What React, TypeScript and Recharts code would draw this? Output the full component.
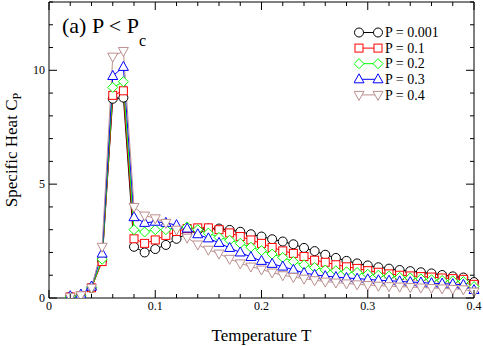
import React from 'react';
import { Legend, Line, LineChart, XAxis, YAxis } from 'recharts';

const temps = [
  0.02, 0.03, 0.04, 0.05, 0.06, 0.07, 0.08, 0.09, 0.1, 0.11, 0.12, 0.13, 0.14,
  0.15, 0.16, 0.17, 0.18, 0.19, 0.2, 0.21, 0.22, 0.23, 0.24, 0.25, 0.26, 0.27,
  0.28, 0.29, 0.3, 0.31, 0.32, 0.33, 0.34, 0.35, 0.36, 0.37, 0.38, 0.39, 0.4,
];

const cpP0001 = [
  0.05, 0.1, 0.45, 1.65, 8.75, 8.8, 2.25, 2.0, 2.15, 2.33, 2.6, 2.82, 2.98,
  3.05, 3.05, 2.99, 2.91, 2.8, 2.7, 2.58, 2.48, 2.36, 2.2, 2.06, 1.9, 1.76,
  1.63, 1.52, 1.43, 1.35, 1.29, 1.23, 1.18, 1.13, 1.08, 1.01, 0.95, 0.9, 0.7,
];
const cpP01 = [
  0.05, 0.1, 0.45, 1.6, 8.9, 9.1, 2.6, 2.4, 2.55, 2.75, 2.92, 3.05, 3.08,
  3.08, 3.0, 2.86, 2.7, 2.55, 2.4, 2.22, 2.07, 1.96, 1.82, 1.66, 1.57, 1.46,
  1.37, 1.3, 1.2, 1.13, 1.06, 1.0, 0.97, 0.94, 0.92, 0.88, 0.85, 0.82, 0.6,
];
const cpP02 = [
  0.05, 0.1, 0.45, 1.7, 9.25, 9.5, 3.0, 2.9, 3.0, 3.0, 3.07, 3.12, 3.0,
  2.85, 2.66, 2.54, 2.4, 2.23, 2.08, 1.93, 1.78, 1.6, 1.46, 1.34, 1.23, 1.2,
  1.15, 1.12, 1.04, 1.0, 0.96, 0.91, 0.88, 0.84, 0.8, 0.77, 0.75, 0.72, 0.5,
];
const cpP03 = [
  0.08, 0.15, 0.5, 1.95, 9.75, 10.15, 3.55, 3.3, 3.35, 3.3, 3.2, 3.05, 2.8,
  2.62, 2.42, 2.2, 2.0, 1.8, 1.63, 1.5, 1.38, 1.24, 1.1, 1.02, 0.96, 0.92,
  0.88, 0.85, 0.82, 0.78, 0.76, 0.73, 0.7, 0.68, 0.65, 0.63, 0.61, 0.58, 0.35,
];
const cpP04 = [
  0.05, 0.12, 0.45, 2.25, 10.6, 10.85, 4.0, 3.62, 3.5, 3.3, 3.0, 2.65, 2.35,
  2.12, 1.95, 1.72, 1.52, 1.38, 1.25, 1.12, 1.0, 0.92, 0.85, 0.78, 0.72, 0.68,
  0.64, 0.6, 0.57, 0.54, 0.52, 0.5, 0.48, 0.46, 0.44, 0.42, 0.4, 0.38, 0.28,
];

const xTicks = [
  0, 0.02, 0.04, 0.06, 0.08, 0.1, 0.12, 0.14, 0.16, 0.18, 0.2, 0.22, 0.24,
  0.26, 0.28, 0.3, 0.32, 0.34, 0.36, 0.38, 0.4,
];
const xMajor = [0, 0.1, 0.2, 0.3, 0.4];
const yTicks = [0, 1, 2, 3, 4, 5, 6, 7, 8, 9, 10, 11, 12, 13];
const yMajor = [0, 5, 10];

const series = [
  { key: 'p0001', label: 'P = 0.001', color: '#000000', shape: 'circle', values: cpP0001 },
  { key: 'p01', label: 'P = 0.1', color: '#ff0000', shape: 'square', values: cpP01 },
  { key: 'p02', label: 'P = 0.2', color: '#00ff00', shape: 'diamond', values: cpP02 },
  { key: 'p03', label: 'P = 0.3', color: '#0000ff', shape: 'up', values: cpP03 },
  { key: 'p04', label: 'P = 0.4', color: '#bc8f8f', shape: 'down', values: cpP04 },
];

const data = temps.map((t, i) => {
  const row: Record<string, number> = { t };
  series.forEach((s) => {
    row[s.key] = s.values[i];
  });
  return row;
});

const FONT = '"Liberation Serif", "Times New Roman", serif';

const isMajor = (list: number[], v: number) =>
  list.some((m) => Math.abs(m - v) < 1e-9);

function Marker({ cx, cy, shape, color }: any) {
  if (cx == null || cy == null) return null;
  const common = { fill: '#ffffff', stroke: color, strokeWidth: 1 };
  switch (shape) {
    case 'circle':
      return <circle cx={cx} cy={cy} r={4.5} {...common} />;
    case 'square':
      return <rect x={cx - 4} y={cy - 4} width={8} height={8} {...common} />;
    case 'diamond':
      return (
        <polygon
          points={`${cx},${cy - 5} ${cx + 5},${cy} ${cx},${cy + 5} ${cx - 5},${cy}`}
          {...common}
        />
      );
    case 'up':
      return (
        <polygon
          points={`${cx},${cy - 5.5} ${cx + 5},${cy + 3.5} ${cx - 5},${cy + 3.5}`}
          {...common}
        />
      );
    default:
      return (
        <polygon
          points={`${cx},${cy + 5.5} ${cx + 5},${cy - 3.5} ${cx - 5},${cy - 3.5}`}
          {...common}
        />
      );
  }
}

function BottomTick({ x, y, payload }: any) {
  const major = isMajor(xMajor, payload.value);
  return (
    <g>
      <line x1={x} y1={y} x2={x} y2={y - (major ? 8 : 4)} stroke="#000" />
      {major && (
        <text x={x} y={y + 12} textAnchor="middle" fontSize={12} fontFamily={FONT} fill="#000">
          {String(payload.value)}
        </text>
      )}
    </g>
  );
}

function TopTick({ x, y, payload }: any) {
  const major = isMajor(xMajor, payload.value);
  return <line x1={x} y1={y} x2={x} y2={y + (major ? 8 : 4)} stroke="#000" />;
}

function LeftTick({ x, y, payload }: any) {
  const major = isMajor(yMajor, payload.value);
  return (
    <g>
      <line x1={x} y1={y} x2={x + (major ? 8 : 4)} y2={y} stroke="#000" />
      {major && (
        <text x={x - 4} y={y + 4} textAnchor="end" fontSize={12} fontFamily={FONT} fill="#000">
          {String(payload.value)}
        </text>
      )}
    </g>
  );
}

function RightTick({ x, y, payload }: any) {
  const major = isMajor(yMajor, payload.value);
  return <line x1={x} y1={y} x2={x - (major ? 8 : 4)} y2={y} stroke="#000" />;
}

// legend drawn as svg so it uses the same font as the title
function LegendBox({ payload }: any) {
  const rows = payload || [];
  return (
    <svg width={110} height={82} style={{ display: 'block' }}>
      {rows.map((entry: any, i: number) => {
        const s = series.find((item) => item.key === entry.dataKey) || series[0];
        const cy = 7.5 + i * 15.6;
        return (
          <g key={s.key}>
            <line x1={5} y1={cy} x2={24} y2={cy} stroke={s.color} />
            <Marker cx={5} cy={cy} shape={s.shape} color={s.color} />
            <Marker cx={24} cy={cy} shape={s.shape} color={s.color} />
            <text x={31} y={cy + 4.6} fontSize={14} fontFamily={FONT} fill="#000">
              {s.label}
            </text>
          </g>
        );
      })}
    </svg>
  );
}

export default function App() {
  return (
    <div style={{ position: 'absolute', left: 0, top: 0, width: 483, height: 346, background: '#fff' }}>
      <LineChart
        width={483}
        height={346}
        data={data}
        margin={{ top: 1, right: 8, bottom: 18, left: 0 }}
      >
        <XAxis
          dataKey="t"
          type="number"
          domain={[0, 0.4]}
          ticks={xTicks}
          interval={0}
          height={30}
          tickSize={0}
          tickMargin={0}
          tickLine={false}
          tick={<BottomTick />}
          axisLine={{ stroke: '#000' }}
          label={({ viewBox }: any) => (
            <text
              x={viewBox.x + viewBox.width / 2}
              y={viewBox.y + 43}
              textAnchor="middle"
              fontSize={17}
              fontFamily={FONT}
              fill="#000"
            >
              Temperature T
            </text>
          )}
        />
        <XAxis
          xAxisId="top"
          orientation="top"
          dataKey="t"
          type="number"
          domain={[0, 0.4]}
          allowDataOverflow
          ticks={xTicks}
          interval={0}
          height={1}
          tickSize={0}
          tickMargin={0}
          tickLine={false}
          tick={<TopTick />}
          axisLine={{ stroke: '#000' }}
        />
        <YAxis
          type="number"
          domain={[0, 13]}
          allowDataOverflow
          ticks={yTicks}
          interval={0}
          width={49}
          tickSize={0}
          tickMargin={0}
          tickLine={false}
          tick={<LeftTick />}
          axisLine={{ stroke: '#000' }}
          label={({ viewBox }: any) => {
            const cx = viewBox.x + 17;
            const cy = viewBox.y + viewBox.height / 2;
            return (
              <text
                x={cx}
                y={cy}
                transform={`rotate(-90, ${cx}, ${cy})`}
                textAnchor="middle"
                fontSize={17}
                fontFamily={FONT}
                fill="#000"
              >
                Specific Heat C
                <tspan fontSize={12} dy={4}>
                  P
                </tspan>
              </text>
            );
          }}
        />
        <YAxis
          yAxisId="right"
          orientation="right"
          type="number"
          domain={[0, 13]}
          allowDataOverflow
          ticks={yTicks}
          interval={0}
          width={1}
          tickSize={0}
          tickMargin={0}
          tickLine={false}
          tick={<RightTick />}
          axisLine={{ stroke: '#000' }}
        />
        <Legend
          verticalAlign="middle"
          align="center"
          layout="vertical"
          content={<LegendBox />}
          wrapperStyle={{ position: 'absolute', top: 25, left: 354, width: 110, height: 82 }}
        />
        {series.map((s) => (
          <Line
            key={s.key}
            dataKey={s.key}
            name={s.label}
            stroke={s.color}
            strokeWidth={1}
            type="linear"
            isAnimationActive={false}
            dot={(props: any) => (
              <Marker key={`${s.key}-${props.index}`} cx={props.cx} cy={props.cy} shape={s.shape} color={s.color} />
            )}
            activeDot={false}
          />
        ))}
      </LineChart>
      <svg
        width={483}
        height={60}
        style={{ position: 'absolute', left: 0, top: 0, pointerEvents: 'none' }}
      >
        <text x={62} y={33.3} fontSize={22} fontFamily={FONT} fill="#000">
          (a) P &lt; P
          <tspan fontSize={16} dy={13}>
            c
          </tspan>
        </text>
      </svg>
    </div>
  );
}
